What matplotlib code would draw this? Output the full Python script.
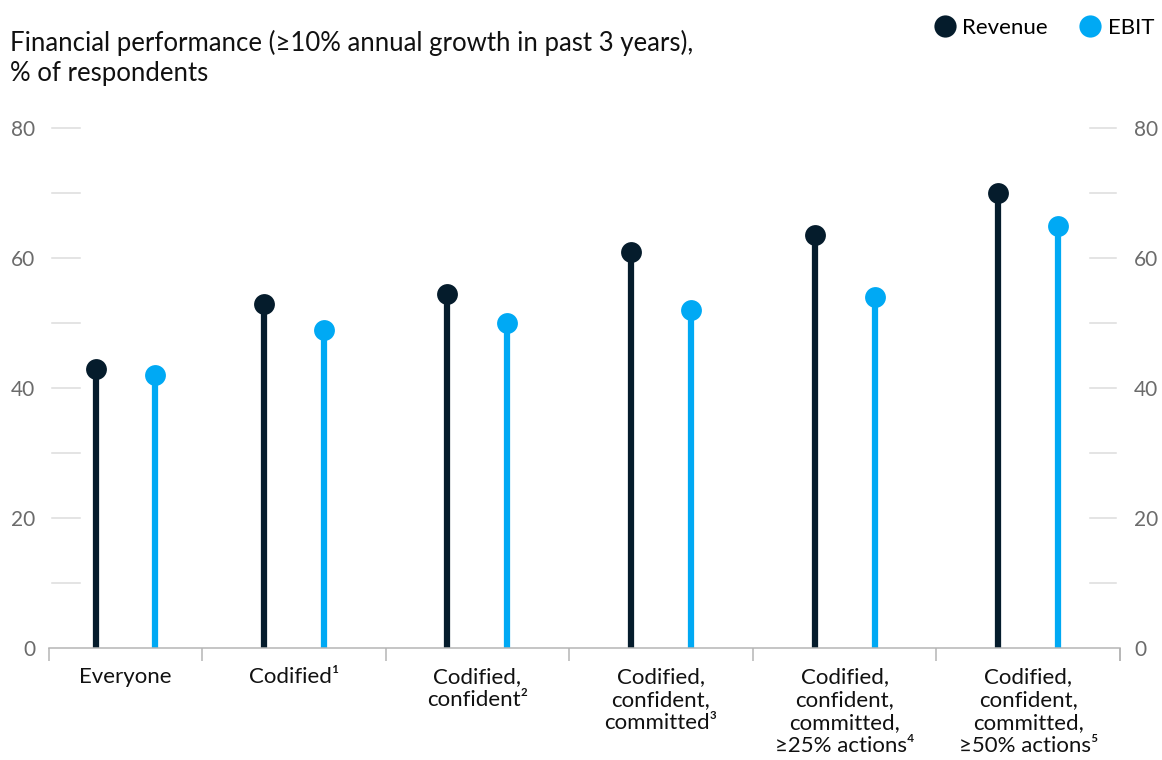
import numpy as np
import matplotlib
matplotlib.use("Agg")
import matplotlib.pyplot as plt
from matplotlib.lines import Line2D
import matplotlib.transforms as mtransforms

plt.rcParams['font.family'] = ['Lato', 'DejaVu Sans']

categories = [
    "Everyone",
    "Codified\u00b9",
    "Codified,\nconfident\u00b2",
    "Codified,\nconfident,\ncommitted\u00b3",
    "Codified,\nconfident,\ncommitted,\n\u226525% actions\u2074",
    "Codified,\nconfident,\ncommitted,\n\u226550% actions\u2075",
]
revenue = [43, 53, 54.5, 61, 63.5, 70]
ebit = [42, 49, 50, 52, 54, 65]
y_ticks = [0, 20, 40, 60, 80]
title = "Financial performance (\u226510% annual growth in past 3 years),\n% of respondents"

REV_C = "#051C2C"
EBIT_C = "#00A9F4"
GRAY = "#6b6b6b"

W, H = 1162, 760
fig = plt.figure(figsize=(W / 100, H / 100), dpi=100)
ax_l, ax_r, ax_b, ax_t = 49, 1120, 648, 128
ax = fig.add_axes([ax_l / W, 1 - ax_b / H, (ax_r - ax_l) / W, (ax_b - ax_t) / H])

n = len(categories)
xleft, xright = -0.333, n - 0.5
edges = np.concatenate([[xleft], np.arange(n) + 0.5])
centers = (edges[:-1] + edges[1:]) / 2
off = 0.163

for xs, vals, c in [(centers - off, revenue, REV_C), (centers + off, ebit, EBIT_C)]:
    ax.vlines(xs, 0, vals, color=c, lw=4.5, zorder=2)
    ax.plot(xs, vals, 'o', color=c, ms=15, zorder=3, mec='none')

ax.set_xlim(xleft, xright)
ax.set_ylim(0, 80)

for s in ['top', 'right', 'left']:
    ax.spines[s].set_visible(False)
ax.spines['bottom'].set_color('#b5b5b5')
ax.spines['bottom'].set_linewidth(1.1)

# short gridline dashes
trans = mtransforms.blended_transform_factory(ax.transAxes, ax.transData)
for yv in range(10, 81, 10):
    ax.plot([3 / 1071, 31 / 1071], [yv, yv], color='#dcdcdc', lw=1.1, transform=trans, clip_on=False)
    ax.plot([1041 / 1071, 1067 / 1071], [yv, yv], color='#dcdcdc', lw=1.1, transform=trans, clip_on=False)

ax.set_yticks(y_ticks)
ax.set_yticklabels([str(v) for v in y_ticks])
ax.tick_params(axis='y', length=0, labelsize=15, labelcolor=GRAY, pad=10,
               labelleft=True, labelright=True)

ax.set_xticks(centers)
ax.set_xticklabels(categories, fontsize=16, linespacing=1.17, va='top')
ax.set_xticks(list(edges) + [xright], minor=True)
ax.tick_params(axis='x', which='major', length=0, pad=14, labelcolor='#111111')
ax.tick_params(axis='x', which='minor', length=9, width=1.1, color='#b5b5b5')

fig.text(10 / W, 1 - 30 / H, title, fontsize=18.5, va='top', ha='left', color='#111111', linespacing=1.22)

handles = [Line2D([], [], marker='o', ls='none', color=REV_C, ms=16, mec='none'),
           Line2D([], [], marker='o', ls='none', color=EBIT_C, ms=16, mec='none')]
fig.legend(handles, ["Revenue", "EBIT"], ncol=2, frameon=False, fontsize=16,
           loc='upper right', bbox_to_anchor=(1170 / W, 1 - 2 / H),
           handletextpad=0.2, columnspacing=1.3, handlelength=1.2, borderaxespad=0.3)

fig.savefig("out.png", dpi=100)
